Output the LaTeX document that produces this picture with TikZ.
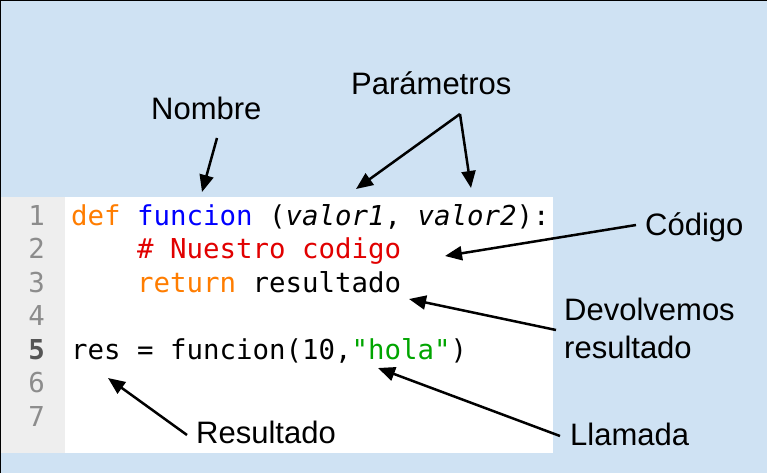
\documentclass[tikz,border=0pt]{standalone}
\usepackage{fontspec}
\setmainfont{Liberation Sans}
\newfontfamily\codefont{DejaVu Sans Mono}
\usetikzlibrary{arrows.meta}
\definecolor{bgblue}{RGB}{207,226,243}
\definecolor{gutter}{RGB}{238,238,238}
\definecolor{lnum}{RGB}{140,140,140}
\definecolor{lnumact}{RGB}{85,85,85}
\definecolor{kwor}{RGB}{255,125,0}
\definecolor{fnblue}{RGB}{0,0,255}
\definecolor{cmred}{RGB}{225,0,0}
\definecolor{strgreen}{RGB}{0,165,0}
\begin{document}
\begin{tikzpicture}[x=1pt,y=-1pt,
  lbl/.style={anchor=base west,inner sep=0pt,font=\fontsize{31}{36}\selectfont},
  codeln/.style={anchor=base west,inner sep=0pt,font=\codefont\fontsize{27.4}{33.5}\selectfont},
  numln/.style={anchor=base east,inner sep=0pt,text=lnum,font=\codefont\fontsize{27.4}{33.5}\selectfont},
  arr/.style={line width=2.5pt,-{Triangle[length=17pt,width=14pt]}}]
\useasboundingbox (0,0) rectangle (767,473);
\fill[bgblue] (0,0) rectangle (767,473);
\draw[line width=1.5pt] (0,473) -- (0,0) -- (767,0);
% code panel
\fill[white] (65,197) rectangle (553,453);
\fill[gutter] (0.75,197) rectangle (65,453);
% line numbers
\node[numln] (n1) at (45,225) {1};
\node[numln] (n2) at (45,258.5) {2};
\node[numln] (n3) at (45,292) {3};
\node[numln] (n4) at (45,325.5) {4};
\node[numln,text=lnumact] (n5) at (45,359) {\bfseries 5};
\node[numln] (n6) at (45,392.5) {6};
\node[numln] (n7) at (45,426) {7};
% code
\node[codeln] (c1) at (71,225) {\textcolor{kwor}{def} \textcolor{fnblue}{funcion} (\textit{valor1}, \textit{valor2}):};
\node[codeln] (c2) at (71,258.5) {\phantom{xxxx}\textcolor{cmred}{\# Nuestro codigo}};
\node[codeln] (c3) at (71,292) {\phantom{xxxx}\textcolor{kwor}{return} resultado};
\node[codeln] (c5) at (71,359) {res = funcion(10,\textcolor{strgreen}{"hola"})};
% labels
\node[lbl] (nombre) at (151,120) {Nombre};
\node[lbl] (param) at (351,95) {Parámetros};
\node[lbl] (codigo) at (645,235) {Código};
\node[lbl] (devol) at (564,320) {Devolvemos};
\node[lbl] (devol2) at (564,358) {resultado};
\node[lbl] (llamada) at (570,445) {Llamada};
\node[lbl] (result) at (196,443) {Resultado};
% arrow ends
\coordinate (tNom) at (217,138);
\coordinate (hNom) at (202,192);
\coordinate (tPar) at (460,114);
\coordinate (hPar1) at (356,189);
\coordinate (hPar2) at (471,188);
\coordinate (tCod) at (636,225);
\coordinate (hCod) at (445,256);
\coordinate (tDev) at (556,330);
\coordinate (hDev) at (409,299);
\coordinate (tLla) at (560,436);
\coordinate (hLla) at (378,368);
\coordinate (tRes) at (187,435);
\coordinate (hRes) at (108,378);
\draw[arr] (tNom) -- (hNom);
\draw[arr] (tPar) -- (hPar1);
\draw[arr] (tPar) -- (hPar2);
\draw[arr] (tCod) -- (hCod);
\draw[arr] (tDev) -- (hDev);
\draw[arr] (tLla) -- (hLla);
\draw[arr] (tRes) -- (hRes);
\end{tikzpicture}
\end{document}
